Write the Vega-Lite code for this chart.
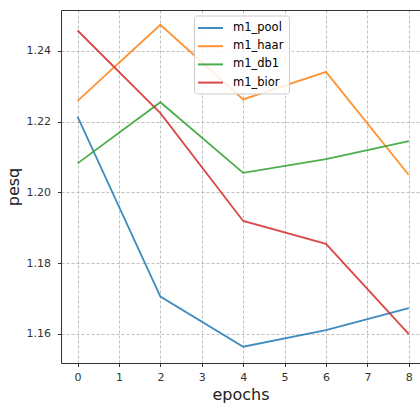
{
  "$schema": "https://vega.github.io/schema/vega-lite/v6.json",
  "autosize": {"type": "none"},
  "padding": {"left": 61, "top": 10, "right": 0, "bottom": 41},
  "width": 359,
  "height": 353,
  "background": "white",
  "config": {
    "font": "DejaVu Sans",
    "view": {"stroke": null},
    "axis": {
      "labelFont": "DejaVu Sans",
      "titleFont": "DejaVu Sans",
      "labelFontSize": 11,
      "labelColor": "#333333",
      "titleFontSize": 16,
      "titleFontWeight": "normal",
      "titleColor": "#222222",
      "domainColor": "#333333",
      "tickColor": "#333333",
      "tickSize": 3.5,
      "gridColor": "#b0b0b0",
      "gridDash": [3, 2],
      "gridWidth": 0.8
    }
  },
  "data": {
    "values": [
      {"epoch": 0, "model": "m1_pool", "pesq": 1.2214},
      {"epoch": 2, "model": "m1_pool", "pesq": 1.1705},
      {"epoch": 4, "model": "m1_pool", "pesq": 1.1563},
      {"epoch": 6, "model": "m1_pool", "pesq": 1.1610},
      {"epoch": 8, "model": "m1_pool", "pesq": 1.1672},
      {"epoch": 0, "model": "m1_haar", "pesq": 1.2259},
      {"epoch": 2, "model": "m1_haar", "pesq": 1.2474},
      {"epoch": 4, "model": "m1_haar", "pesq": 1.2263},
      {"epoch": 6, "model": "m1_haar", "pesq": 1.2341},
      {"epoch": 8, "model": "m1_haar", "pesq": 1.2049},
      {"epoch": 0, "model": "m1_db1", "pesq": 1.2082},
      {"epoch": 2, "model": "m1_db1", "pesq": 1.2255},
      {"epoch": 4, "model": "m1_db1", "pesq": 1.2055},
      {"epoch": 6, "model": "m1_db1", "pesq": 1.2094},
      {"epoch": 8, "model": "m1_db1", "pesq": 1.2145},
      {"epoch": 0, "model": "m1_bior", "pesq": 1.2458},
      {"epoch": 2, "model": "m1_bior", "pesq": 1.2224},
      {"epoch": 4, "model": "m1_bior", "pesq": 1.1919},
      {"epoch": 6, "model": "m1_bior", "pesq": 1.1854},
      {"epoch": 8, "model": "m1_bior", "pesq": 1.1599}
    ]
  },
  "layer": [
    {
      "mark": {"type": "line", "strokeWidth": 1.8, "opacity": 0.85, "clip": true},
      "encoding": {
        "x": {
          "field": "epoch", "type": "quantitative",
          "scale": {"domain": [-0.4, 8.27], "nice": false, "zero": false},
          "axis": {"orient": "bottom", "values": [0,1,2,3,4,5,6,7,8], "format": "d", "title": "epochs", "labelPadding": 5, "titlePadding": 4, "grid": true}
        },
        "y": {
          "field": "pesq", "type": "quantitative",
          "scale": {"domain": [1.1517, 1.2516], "nice": false, "zero": false},
          "axis": {"values": [1.16, 1.18, 1.2, 1.22, 1.24], "format": ".2f", "title": "pesq", "labelPadding": 7, "titlePadding": 5, "grid": true}
        },
        "color": {
          "field": "model", "type": "nominal",
          "scale": {"domain": ["m1_pool", "m1_haar", "m1_db1", "m1_bior"], "range": ["#1f77b4", "#ff7f0e", "#2ca02c", "#d62728"]},
          "legend": {
            "title": null,
            "orient": "none",
            "legendX": 133,
            "legendY": 5.5,
            "symbolType": "M-2,0H2",
            "symbolSize": 156,
            "symbolStrokeWidth": 2,
            "symbolOffset": 4,
            "labelOffset": 15,
            "labelFontSize": 11.5,
            "labelColor": "#000000",
            "labelFont": "DejaVu Sans",
            "rowPadding": 5.2,
            "padding": 5,
            "fillColor": "rgba(255,255,255,0.85)",
            "strokeColor": "#cccccc",
            "cornerRadius": 3
          }
        }
      }
    },
    {
      "mark": {"type": "line", "opacity": 0},
      "encoding": {
        "x": {
          "field": "epoch", "type": "quantitative",
          "axis": {"orient": "top", "labels": false, "ticks": false, "grid": false, "title": null, "domain": true}
        },
        "y": {"field": "pesq", "type": "quantitative"}
      }
    }
  ],
  "resolve": {"axis": {"x": "independent"}}
}
